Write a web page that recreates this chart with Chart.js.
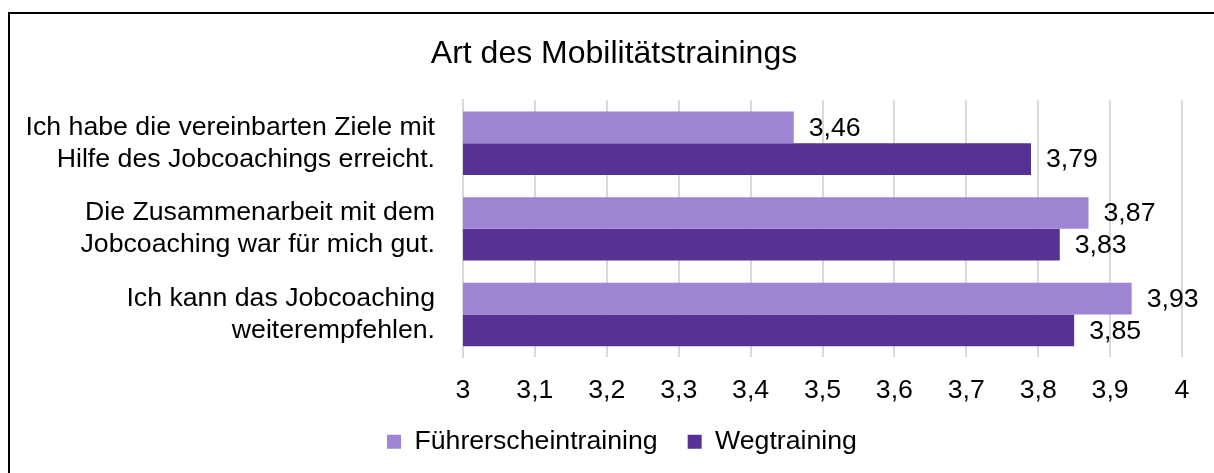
<!DOCTYPE html>
<html>
<head>
<meta charset="utf-8">
<script src="https://cdn.jsdelivr.net/npm/chart.js@4"></script>
<style>
  body { margin: 0; background: #fff; }
  #wrap { position: relative; width: 1214px; height: 473px; overflow: hidden; }
  #frame { position: absolute; left: 8px; top: 12px; width: 1300px; height: 600px; border: 2px solid #000; box-sizing: border-box; pointer-events: none; }
  canvas { position: absolute; left: 0; top: 0; }
</style>
</head>
<body>
<div id="wrap">
  <canvas id="chart" width="1214" height="473"></canvas>
  <div id="frame"></div>
</div>
<script>
// chart data
var categories = [
  ['Ich habe die vereinbarten Ziele mit', 'Hilfe des Jobcoachings erreicht.'],
  ['Die Zusammenarbeit mit dem', 'Jobcoaching war für mich gut.'],
  ['Ich kann das Jobcoaching', 'weiterempfehlen.']
];
var seriesNames = ['Führerscheintraining', 'Wegtraining'];
var fuehrerschein = [3.46, 3.87, 3.93];
var wegtraining = [3.79, 3.83, 3.85];
var xMin = 3, xMax = 4, xStep = 0.1;

var fontFamily = '"Liberation Sans", Arial, sans-serif';
var fontSize = 26.7;

function deNum(v, digits) {
  return (digits != null ? v.toFixed(digits) : String(Math.round(v * 10) / 10)).replace('.', ',');
}

// draws the value labels next to each bar end
var valueLabels = {
  id: 'valueLabels',
  afterDatasetsDraw: function(chart) {
    var ctx = chart.ctx;
    ctx.save();
    ctx.font = fontSize + 'px ' + fontFamily;
    ctx.fillStyle = '#000';
    ctx.textAlign = 'left';
    ctx.textBaseline = 'middle';
    chart.data.datasets.forEach(function(ds, i) {
      chart.getDatasetMeta(i).data.forEach(function(bar, j) {
        ctx.fillText(deNum(ds.data[j], 2), bar.x + 15, bar.y + 1);
      });
    });
    ctx.restore();
  }
};

// title and legend are centred a bit right of the canvas middle,
// legend sits closer to the axis than its padding would allow
var shiftBlocks = {
  id: 'shiftBlocks',
  afterLayout: function(chart) {
    chart.titleBlock.left = 46;
    chart.legend.left = 62;
    chart.legend.top -= 25;
    chart.legend.bottom -= 25;
  }
};

new Chart(document.getElementById('chart'), {
  type: 'bar',
  data: {
    labels: categories,
    datasets: [
      { label: seriesNames[0], data: fuehrerschein, backgroundColor: '#a084d4' },
      { label: seriesNames[1], data: wegtraining, backgroundColor: '#553294' }
    ]
  },
  options: {
    indexAxis: 'y',
    responsive: false,
    animation: false,
    layout: { padding: { top: 12, right: 32, bottom: -17, left: 0 } },
    datasets: { bar: { categoryPercentage: 0.74, barPercentage: 1.0 } },
    plugins: {
      title: {
        display: true,
        text: 'Art des Mobilitätstrainings',
        color: '#000',
        font: { family: fontFamily, size: 32, weight: 'normal' },
        padding: { top: 23, bottom: 27 }
      },
      legend: {
        position: 'bottom',
        labels: {
          color: '#000',
          font: { family: fontFamily, size: fontSize },
          boxWidth: 14,
          boxHeight: 14,
          padding: 30
        }
      },
      tooltip: { enabled: false }
    },
    scales: {
      x: {
        min: xMin,
        max: xMax,
        ticks: {
          stepSize: xStep,
          color: '#000',
          font: { family: fontFamily, size: fontSize },
          padding: 17,
          callback: function(v) { return deNum(v); }
        },
        grid: { color: '#d9d9d9', lineWidth: 2, drawTicks: false },
        border: { display: false }
      },
      y: {
        afterFit: function(scale) { scale.width = 463; },
        ticks: {
          color: '#000',
          font: { family: fontFamily, size: fontSize, lineHeight: 1.2 },
          padding: 20
        },
        grid: { display: false },
        border: { color: '#d9d9d9', width: 2 }
      }
    }
  },
  plugins: [valueLabels, shiftBlocks]
});
</script>
</body>
</html>
